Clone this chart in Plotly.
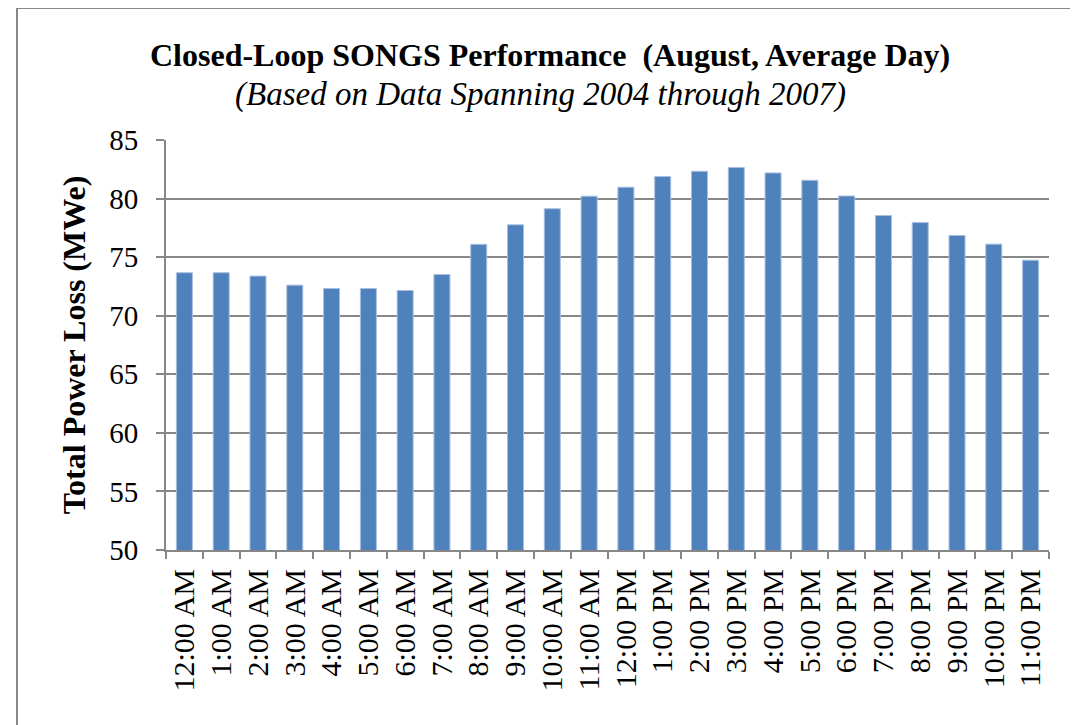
import plotly.graph_objects as go

hours = ["12:00 AM", "1:00 AM", "2:00 AM", "3:00 AM", "4:00 AM", "5:00 AM", "6:00 AM",
         "7:00 AM", "8:00 AM", "9:00 AM", "10:00 AM", "11:00 AM", "12:00 PM", "1:00 PM",
         "2:00 PM", "3:00 PM", "4:00 PM", "5:00 PM", "6:00 PM", "7:00 PM", "8:00 PM",
         "9:00 PM", "10:00 PM", "11:00 PM"]
power_loss = [73.67, 73.67, 73.38, 72.61, 72.32, 72.32, 72.15, 73.52, 76.09, 77.76, 79.13, 80.2,
              80.97, 81.88, 82.33, 82.65, 82.19, 81.56, 80.22, 78.55, 77.95, 76.85, 76.11, 74.74]
y_ticks = [50, 55, 60, 65, 70, 75, 80, 85]

title_text = "Closed-Loop SONGS Performance  (August, Average Day)"
subtitle_text = "(Based on Data Spanning 2004 through 2007)"
y_title = "Total Power Loss (MWe)"

OFF = 8  # page body margin
W, H = 1070, 717
L, T = 166 - OFF, 140 - OFF
R = W - (1049 - OFF)
B = H - (550 - OFF)
pw, ph = W - L - R, H - T - B
grid = "#878787"
font = "Liberation Serif"

def px(x):
    return (x - OFF - L) / pw

def py(y):
    return (H - B - (y - OFF)) / ph

fig = go.Figure(go.Bar(
    x=hours, y=power_loss,
    marker=dict(color="#4F81BD", line=dict(color="#A7BFDE", width=1)),
))

fig.update_layout(
    width=W, height=H,
    margin=dict(l=L, r=R, t=T, b=B),
    paper_bgcolor="white", plot_bgcolor="white",
    bargap=0.565,
    showlegend=False,
    font=dict(family=font, color="black"),
    annotations=[
        dict(text="<b>" + title_text + "</b>", x=px(550), y=py(55), xref="paper", yref="paper",
             xanchor="center", yanchor="middle", showarrow=False,
             font=dict(family=font, size=32, color="black")),
        dict(text="<i>" + subtitle_text + "</i>", x=px(540), y=py(95), xref="paper", yref="paper",
             xanchor="center", yanchor="middle", showarrow=False,
             font=dict(family=font, size=33, color="black")),
    ],
    shapes=[
        dict(type="rect", xref="paper", yref="paper",
             x0=px(17), x1=px(1200), y0=py(900), y1=py(8),
             line=dict(color="#888888", width=2), fillcolor="rgba(0,0,0,0)", layer="below"),
    ],
)

fig.update_xaxes(
    type="category",
    tickangle=-90,
    tickfont=dict(family=font, size=30, color="black"),
    showline=True, linecolor=grid, linewidth=2,
    ticks="outside", tickson="boundaries", ticklen=7, tickwidth=2, tickcolor=grid,
    ticklabelstandoff=5,
    showgrid=False,
)
fig.update_yaxes(
    range=[50, 85], tickvals=y_ticks,
    tickfont=dict(family=font, size=29, color="black"),
    showline=True, linecolor=grid, linewidth=2,
    ticks="outside", ticklen=8, tickwidth=2, tickcolor=grid,
    ticklabelstandoff=12,
    showgrid=True, gridcolor=grid, gridwidth=2,
    zeroline=False,
    title=dict(text="<b>" + y_title + "</b>", font=dict(family=font, size=32, color="black"), standoff=14),
)

fig.write_html("out.html")
